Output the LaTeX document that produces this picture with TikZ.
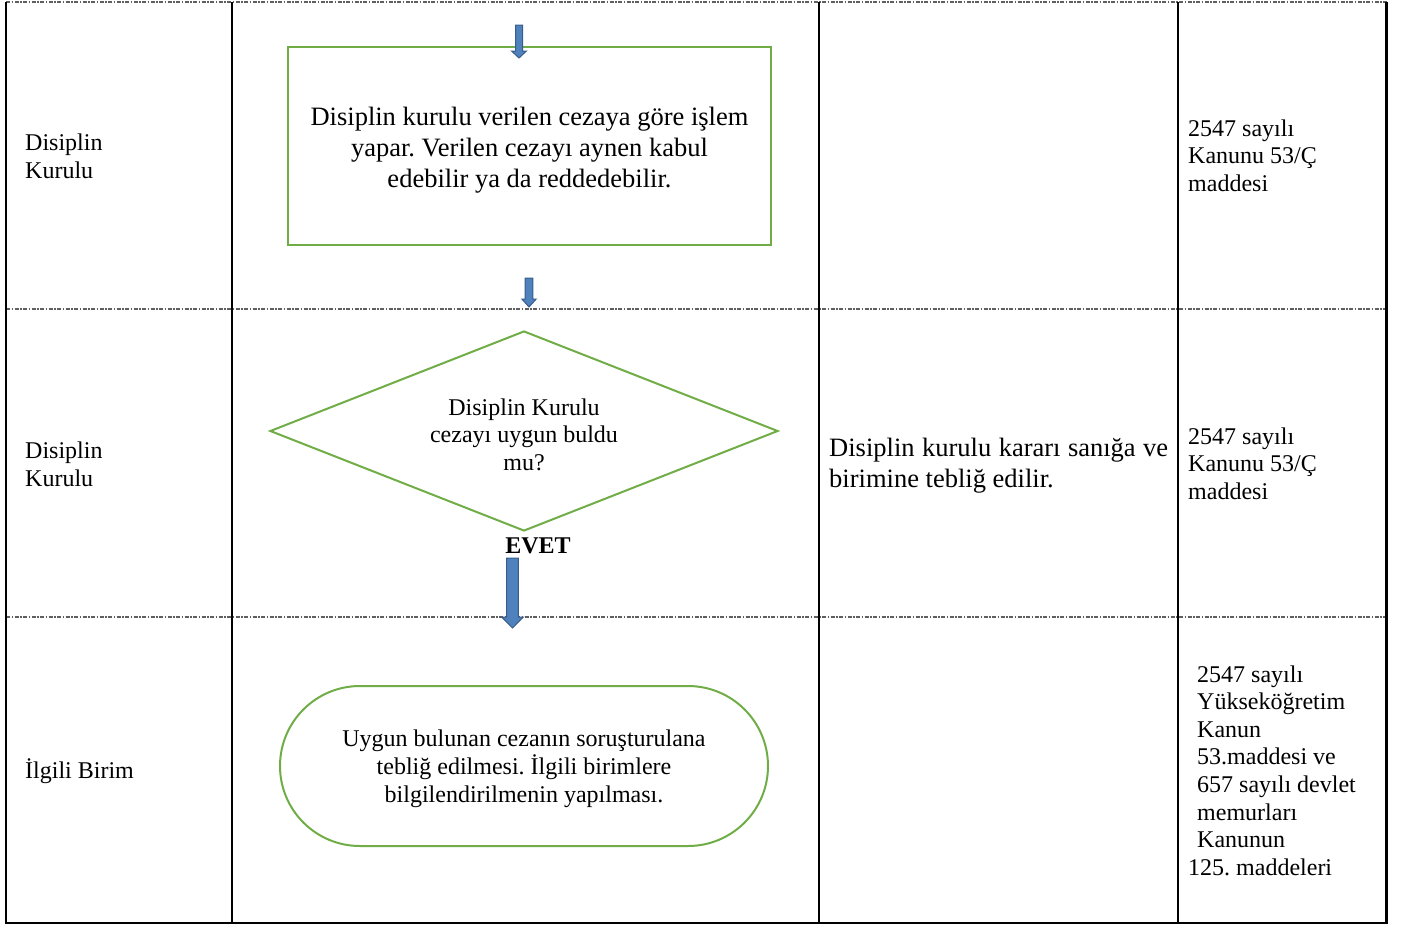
\documentclass[tikz,border=0pt]{standalone}
\usepackage{fontspec}
\setmainfont{Liberation Serif}
\usetikzlibrary{shapes.geometric}
\frenchspacing

\definecolor{flowgreen}{RGB}{112,173,71}
\definecolor{arrowblue}{RGB}{79,129,189}
\definecolor{arrowedge}{RGB}{56,93,138}
\definecolor{rulegray}{RGB}{95,95,95}

% block arrow pointing down: x, top, tip, half shaft, half head, head length
\newcommand\blockdown[6]{%
  \filldraw[blockarrow] (#1-#4,#2) -- (#1+#4,#2) -- (#1+#4,#3-#6) -- (#1+#5,#3-#6)
    -- (#1,#3) -- (#1-#5,#3-#6) -- (#1-#4,#3-#6) -- cycle;}
% invisible strut that pushes the first line down a little
\newcommand\topgap[1]{\rule{0pt}{#1}}

\begin{document}
\begin{tikzpicture}
[ x=1pt, y=-1pt
, every node/.style={inner sep=0pt, font=\fontsize{24}{27.6}\selectfont}
, bigtext/.style={font=\fontsize{26.5}{31}\selectfont}
, process/.style={rectangle, draw=flowgreen, line width=2pt, align=center, minimum width=483, minimum height=198}
, decision/.style={diamond, aspect=2.54, draw=flowgreen, line width=2pt, align=center, minimum width=508, minimum height=200}
, terminator/.style={rectangle, rounded corners=80, draw=flowgreen, line width=2pt, align=center, minimum width=488, minimum height=160}
, lane/.style={anchor=west, align=left}
, rowrule/.style={rulegray, line width=1.2pt, dash pattern=on 4pt off 1.5pt on 1.5pt off 1.5pt}
, colrule/.style={black, line width=2.2pt}
, blockarrow/.style={fill=arrowblue, draw=arrowedge, line width=1pt}
]
\useasboundingbox (0,0) rectangle (1403,929);
% table
\foreach \y in {2,309,617}
  \draw [rowrule] (6,\y) -- (1387,\y);
\foreach \x in {6,232,819,1178,1386.5}
  \draw [colrule] (\x,2) -- (\x,923);
\draw [colrule] (5,923) -- (1387.6,923);
% first column
\node (who1) [lane] at (25,156.5) {Disiplin\\Kurulu};
\node (who2) [lane] at (25,464) {Disiplin\\Kurulu};
\node (who3) [lane] at (25,771) {İlgili Birim};
% flow
\node (islem) [process, bigtext] at (529.5,146)
  {\topgap{26pt}Disiplin kurulu verilen cezaya göre işlem\\yapar. Verilen cezayı aynen kabul\\edebilir ya da reddedebilir.};
\node (uygun) [decision] at (524,431)
  {\topgap{24pt}Disiplin Kurulu\\cezayı uygun buldu\\mu?};
\node (evet) [font=\fontsize{24}{27.6}\selectfont\bfseries] at (538,546) {EVET};
\node (teblig) [terminator] at (524,766)
  {\topgap{22pt}Uygun bulunan cezanın soruşturulana\\tebliğ edilmesi. İlgili birimlere\\bilgilendirilmenin yapılması.};
\blockdown{519}{25}{58}{3.5}{7.5}{7}
\blockdown{529}{278}{307}{3.8}{7.2}{8}
\blockdown{512.5}{558}{628}{5.8}{10.8}{11}
% third column
\node (karar) [lane, bigtext, text width=339, align=justify] at (829,466)
  {\hyphenpenalty=10000 Disiplin kurulu kararı sanığa ve birimine tebliğ edilir.};
% fourth column
\node (law1) [lane] at (1188,155.5) {2547 sayılı\\Kanunu 53/Ç\\maddesi};
\node (law2) [lane] at (1188,463.5) {2547 sayılı\\Kanunu 53/Ç\\maddesi};
\node (law3) [lane] at (1188,770.5)
  {\hspace*{9pt}2547 sayılı\\\hspace*{9pt}Yükseköğretim\\\hspace*{9pt}Kanun\\\hspace*{9pt}53.maddesi ve\\\hspace*{9pt}657 sayılı devlet\\\hspace*{9pt}memurları\\\hspace*{9pt}Kanunun\\125. maddeleri};
\end{tikzpicture}
\end{document}
